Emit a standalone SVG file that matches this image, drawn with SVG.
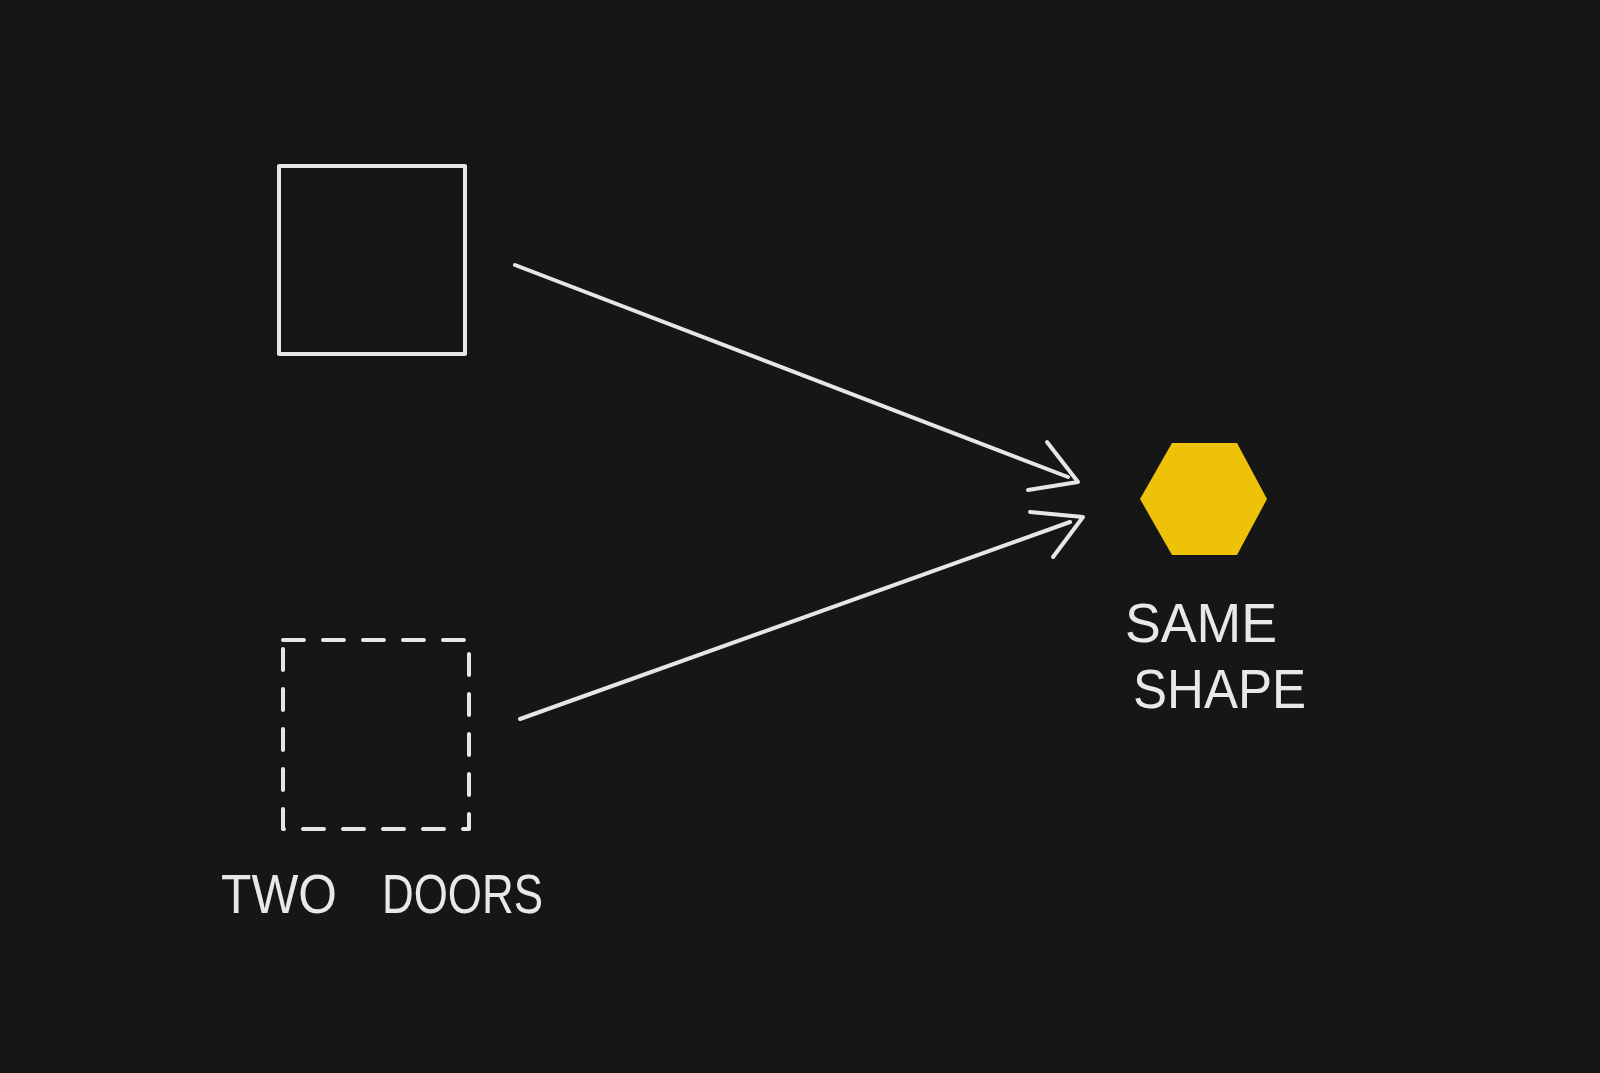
<svg xmlns="http://www.w3.org/2000/svg" width="1600" height="1073" viewBox="0 0 1600 1073">
<style>
.chalk{fill:none;stroke:#e6e6e6;stroke-width:4;stroke-linecap:round;stroke-linejoin:round}
.dash{stroke-dasharray:21 19}
.lbl{font-family:"Liberation Sans","DejaVu Sans",sans-serif;font-size:56px;fill:#e8e8e8;font-weight:normal}
</style>
<rect width="1600" height="1073" fill="#161616"/>
<g id="door-solid">
<rect class="chalk" x="279" y="166" width="186" height="188"/>
</g>
<g id="door-dashed">
<rect class="chalk dash" x="283" y="640" width="186" height="189"/>
</g>
<g id="label-two-doors">
<text class="lbl" y="913"><tspan x="221" textLength="116" lengthAdjust="spacingAndGlyphs">TWO</tspan> <tspan x="382" textLength="161" lengthAdjust="spacingAndGlyphs">DOORS</tspan></text>
</g>
<g id="same-shape">
<polygon points="1172,443 1237,443 1267,499 1237,555 1172,555 1140,499" fill="#efc20a"/>
<text class="lbl" x="1125" y="642" textLength="152" lengthAdjust="spacingAndGlyphs">SAME</text>
<text class="lbl" x="1133" y="708" textLength="173" lengthAdjust="spacingAndGlyphs">SHAPE</text>
</g>
<g id="connectors">
<path class="chalk" d="M515,265 L1068,477"/>
<path class="chalk" d="M1047,442 L1078,482 L1028,490"/>
<path class="chalk" d="M520,719 L1070,522"/>
<path class="chalk" d="M1030,512 L1083,517 L1053,557"/>
</g>
</svg>
